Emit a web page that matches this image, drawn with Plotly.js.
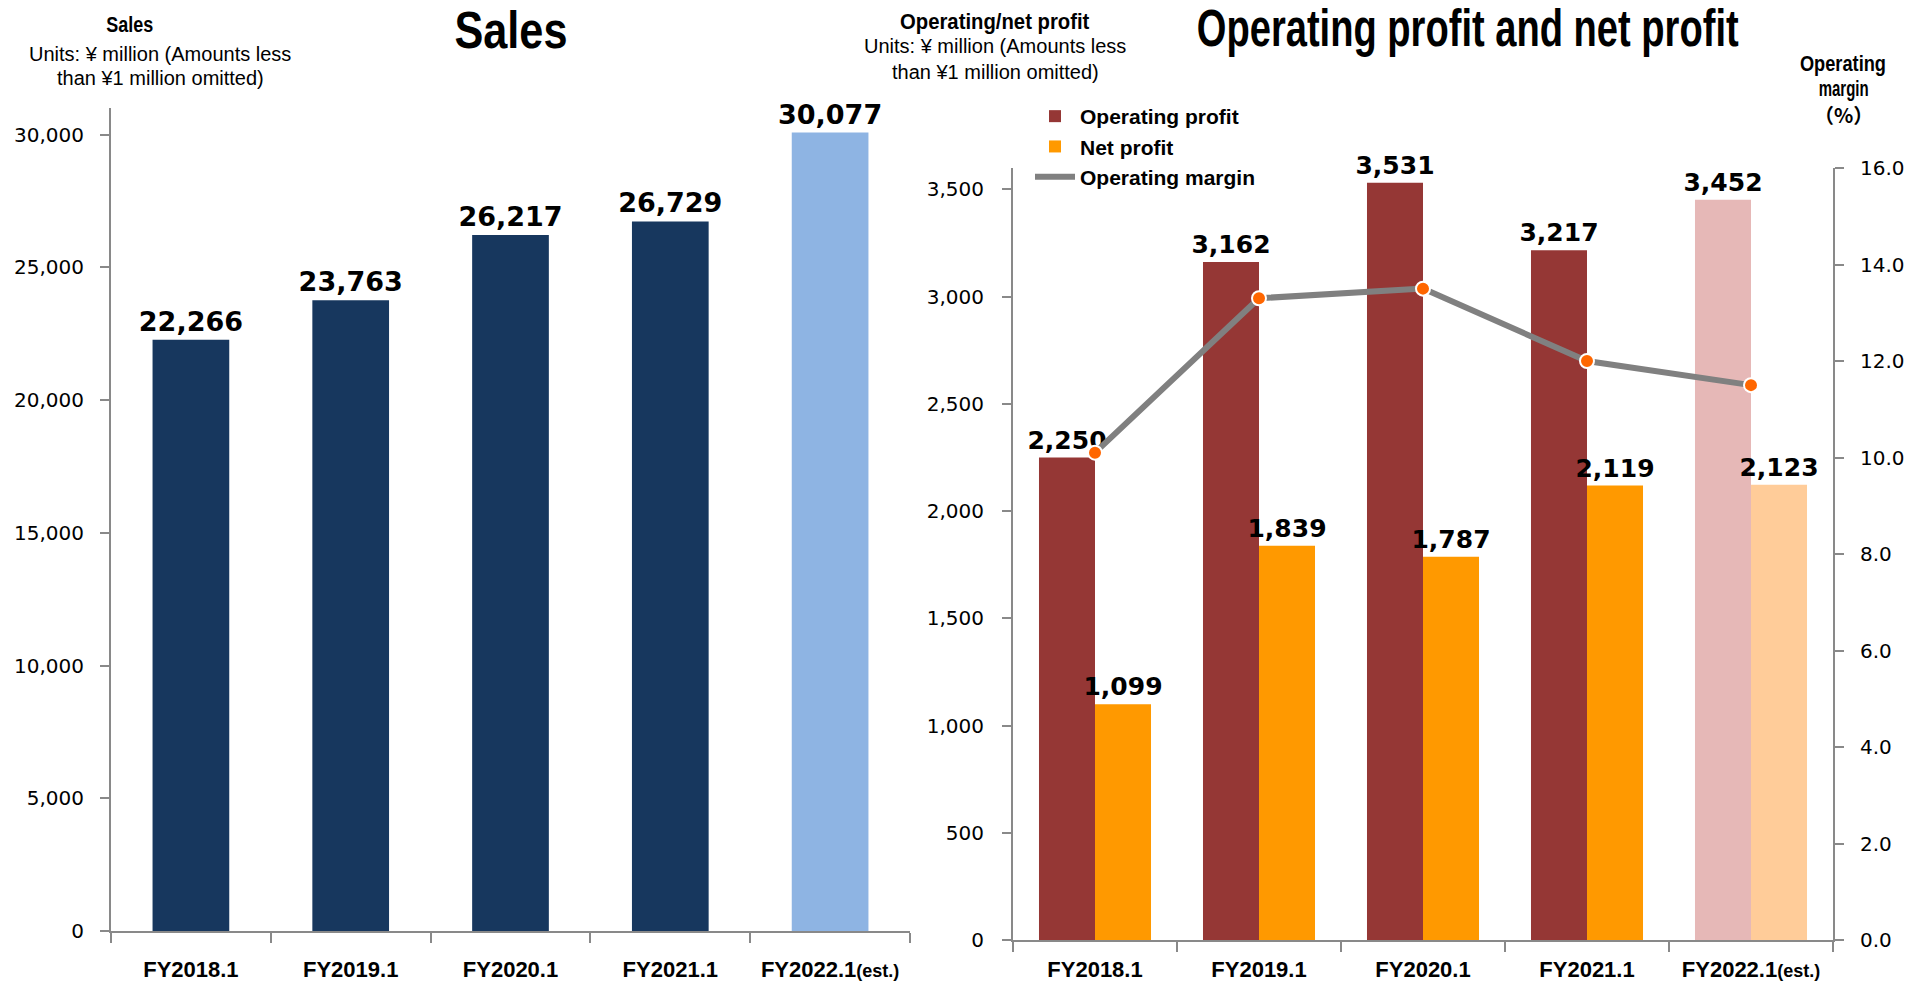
<!DOCTYPE html>
<html>
<head>
<meta charset="utf-8">
<script src="https://cdn.plot.ly/plotly-3.0.1.min.js"></script>
<style>html,body{margin:0;padding:0;background:#fff;}#chart{width:1909px;height:981px;}</style>
</head>
<body>
<div id="chart"></div>
<script>
// ---- data ----
const categories = ['FY2018.1', 'FY2019.1', 'FY2020.1', 'FY2021.1', 'FY2022.1(est.)'];
const tickLabels = ['FY2018.1', 'FY2019.1', 'FY2020.1', 'FY2021.1', "FY2022.1<span style='font-size:18px'>(est.)</span>"];
const sales = [22266, 23763, 26217, 26729, 30077];
const operatingProfit = [2250, 3162, 3531, 3217, 3452];
const netProfit = [1099, 1839, 1787, 2119, 2123];
const operatingMargin = [10.1, 13.3, 13.5, 12.0, 11.5];

// ---- styles ----
const W = 1909, H = 981;
const px = x => x / W;
const py = y => 1 - y / H;
const NARROW = 'Liberation Sans, Arial, sans-serif';
const WIDE = 'DejaVu Sans, Verdana, sans-serif';
const AXIS = '#898989';
const salesColors = ['#17375E', '#17375E', '#17375E', '#17375E', '#8EB4E3'];
const opColors = ['#953735', '#953735', '#953735', '#953735', '#E6B8B7'];
const netColors = ['#FF9900', '#FF9900', '#FF9900', '#FF9900', '#FFCC99'];

const traces = [
  {
    type: 'bar', x: categories, y: sales, xaxis: 'x', yaxis: 'y',
    width: 0.48, marker: {color: salesColors}, showlegend: false,
    texttemplate: '%{y:,d}', textposition: 'outside', constraintext: 'none', cliponaxis: false,
    textfont: {family: WIDE, size: 27, color: '#000', weight: 'bold'}
  },
  {
    type: 'bar', name: 'Operating profit', x: categories, y: operatingProfit, xaxis: 'x2', yaxis: 'y2',
    marker: {color: opColors},
    texttemplate: '%{y:,d}', textposition: 'outside', constraintext: 'none', cliponaxis: false,
    textfont: {family: WIDE, size: 25, color: '#000', weight: 'bold'}
  },
  {
    type: 'bar', name: 'Net profit', x: categories, y: netProfit, xaxis: 'x2', yaxis: 'y2',
    marker: {color: netColors},
    texttemplate: '%{y:,d}', textposition: 'outside', constraintext: 'none', cliponaxis: false,
    textfont: {family: WIDE, size: 25, color: '#000', weight: 'bold'}
  },
  {
    type: 'scatter', mode: 'lines', name: 'Operating margin', x: categories, y: operatingMargin,
    xaxis: 'x2', yaxis: 'y3', line: {color: '#808080', width: 6}, cliponaxis: false
  },
  {
    type: 'scatter', mode: 'markers', name: 'Operating margin', x: categories, y: operatingMargin,
    xaxis: 'x2', yaxis: 'y3', showlegend: false, cliponaxis: false,
    marker: {color: '#FF6600', size: 14, line: {color: '#fff', width: 2}}
  }
];

const xBase = {
  type: 'category', tickson: 'boundaries', ticks: 'outside', ticklen: 10, tickwidth: 2,
  tickcolor: AXIS, showline: true, linecolor: AXIS, linewidth: 2, showgrid: false,
  zeroline: false, tickvals: categories, ticktext: tickLabels, tickangle: 0,
  tickfont: {family: NARROW, size: 22, color: '#000', weight: 'bold'}, fixedrange: true
};
const yBase = {
  ticks: 'outside', ticklen: 9, tickwidth: 2, tickcolor: AXIS, showline: true,
  linecolor: AXIS, linewidth: 2, showgrid: false, zeroline: false,
  tickfont: {family: WIDE, size: 20, color: '#000'}, fixedrange: true
};

const layout = {
  width: W, height: H, margin: {l: 0, r: 0, t: 0, b: 0},
  paper_bgcolor: '#fff', plot_bgcolor: '#fff',
  barmode: 'group', bargap: 0.317, bargroupgap: 0,
  showlegend: true,
  legend: {
    x: px(1030), y: py(96), xanchor: 'left', yanchor: 'top',
    font: {family: NARROW, size: 21, color: '#000', weight: 'bold'},
    bgcolor: 'rgba(0,0,0,0)', traceorder: 'normal', itemwidth: 40, tracegroupgap: 0
  },
  xaxis: Object.assign({}, xBase, {domain: [px(111), px(910)], anchor: 'y', ticklabelstandoff: 18}),
  yaxis: Object.assign({}, yBase, {domain: [py(931), py(108)], anchor: 'x', range: [0, 31000], dtick: 5000, tickformat: ',d', ticklabelstandoff: 12}),
  xaxis2: Object.assign({}, xBase, {domain: [px(1013), px(1833)], anchor: 'y2', ticklabelstandoff: 9}),
  yaxis2: Object.assign({}, yBase, {domain: [py(940), py(168)], anchor: 'x2', range: [0, 3600], dtick: 500, tickformat: ',d', ticklabelstandoff: 14}),
  yaxis3: Object.assign({}, yBase, {overlaying: 'y2', side: 'right', anchor: 'x2', range: [0, 16], dtick: 2, tickformat: '.1f', ticklabelstandoff: 12}),
  annotations: [
    {text: '<b>Sales</b>', x: px(511), y: py(30), font: {family: NARROW, size: 52, color: '#000'}},
    {text: '<b>Sales</b>', x: px(130), y: py(24), font: {family: NARROW, size: 22, color: '#000'}},
    {text: 'Units: ¥ million (Amounts less', x: px(160), y: py(54), font: {family: NARROW, size: 20, color: '#000'}},
    {text: 'than ¥1 million omitted)', x: px(160), y: py(78), font: {family: NARROW, size: 20, color: '#000'}},
    {text: '<b>Operating profit and net profit</b>', x: px(1468), y: py(28), font: {family: NARROW, size: 52, color: '#000'}},
    {text: '<b>Operating/net profit</b>', x: px(995), y: py(21), font: {family: NARROW, size: 22, color: '#000'}},
    {text: 'Units: ¥ million (Amounts less', x: px(995), y: py(46), font: {family: NARROW, size: 20, color: '#000'}},
    {text: 'than ¥1 million omitted)', x: px(995), y: py(72), font: {family: NARROW, size: 20, color: '#000'}},
    {text: '<b>Operating</b>', x: px(1843), y: py(63), font: {family: NARROW, size: 22, color: '#000'}},
    {text: '<b>margin</b>', x: px(1843), y: py(89), font: {family: NARROW, size: 22, color: '#000'}},
    {text: '<b>（%）</b>', x: px(1843), y: py(114), font: {family: 'Noto Sans CJK JP, ' + NARROW, size: 20, color: '#000'}}
  ].map(a => Object.assign({xref: 'paper', yref: 'paper', xanchor: 'center', yanchor: 'middle', showarrow: false}, a))
};

// condensed look for title-like texts: squeeze horizontally to the reference widths
const textWidths = {0: 113, 1: 47, 4: 542, 5: 190, 8: 86, 9: 50};

Plotly.newPlot('chart', traces, layout, {displayModeBar: false, staticPlot: true}).then(gd => {
  gd.querySelectorAll('g.annotation').forEach(g => {
    const i = +g.getAttribute('data-index');
    if (!(i in textWidths)) return;
    const t = g.querySelector('text');
    if (!t) return;
    const b = t.getBBox();
    if (!b.width) return;
    const s = Math.min(1, textWidths[i] / b.width);
    const cx = b.x + b.width / 2;
    const prev = t.getAttribute('transform') || '';
    t.setAttribute('transform', prev + ' translate(' + cx + ',0) scale(' + s + ',1) translate(' + (-cx) + ',0)');
  });
});
</script>
</body>
</html>
